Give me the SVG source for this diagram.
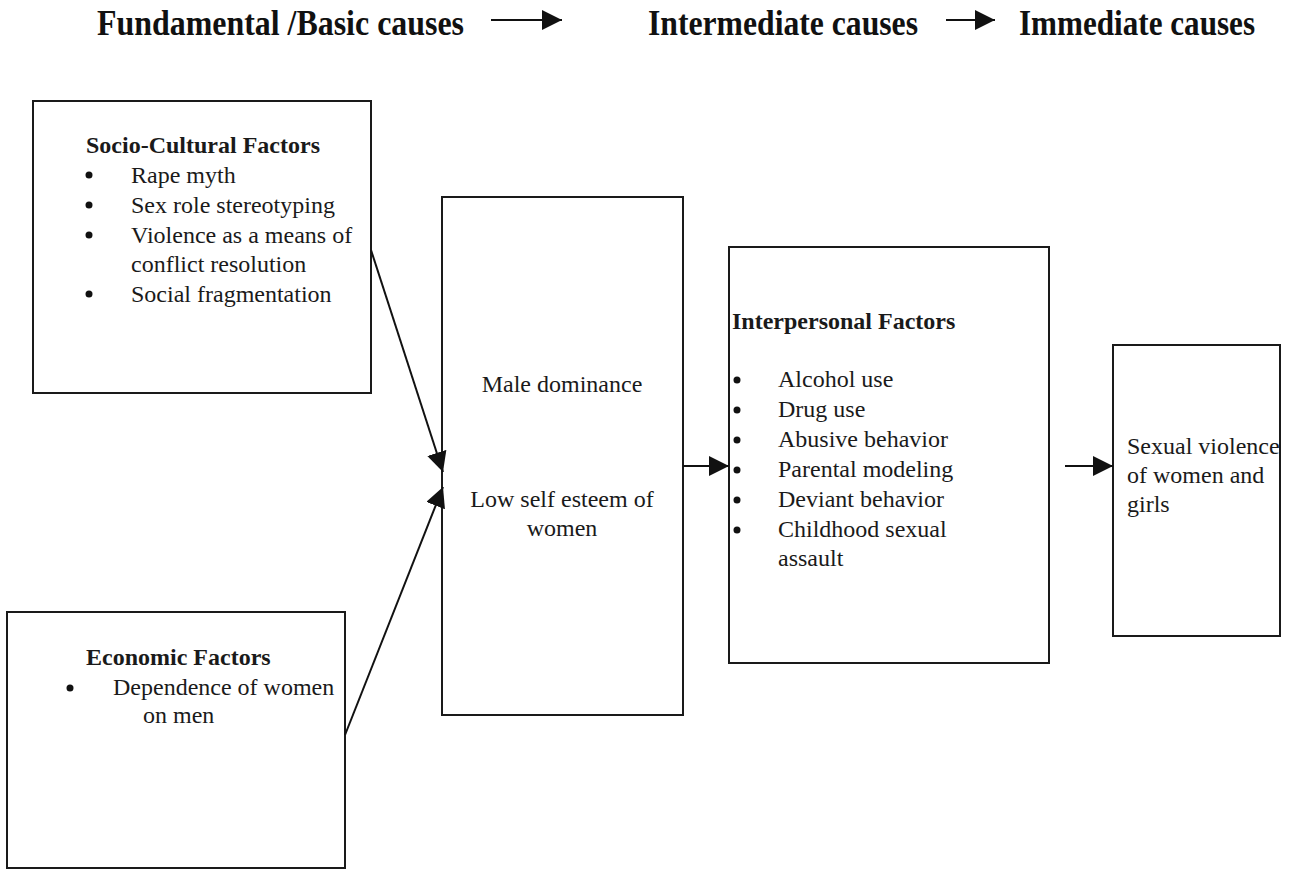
<svg xmlns="http://www.w3.org/2000/svg" width="1296" height="870" viewBox="0 0 1296 870">
<style>
.box{fill:#fff;stroke:#1a1a1a;stroke-width:2}
.t{font-family:"Liberation Serif","Times New Roman",serif;font-size:24px;fill:#1a1a1a}
.b{font-weight:bold}
.h{font-family:"Liberation Serif","Times New Roman",serif;font-size:35px;font-weight:bold;fill:#111}
.c{stroke:#111;stroke-width:2;fill:none}
.dot{fill:#111}
</style>
<defs>
<marker id="ah" markerUnits="userSpaceOnUse" markerWidth="20" markerHeight="20" refX="20" refY="10" orient="auto">
<path d="M0,0 L20,10 L0,20 z" fill="#111"/>
</marker>
</defs>
<rect width="1296" height="870" fill="#fff"/>
<g id="header">
<text class="h" x="97" y="35" textLength="367" lengthAdjust="spacingAndGlyphs">Fundamental /Basic causes</text>
<text class="h" x="648" y="35" textLength="270" lengthAdjust="spacingAndGlyphs">Intermediate causes</text>
<text class="h" x="1019" y="35" textLength="236" lengthAdjust="spacingAndGlyphs">Immediate causes</text>
</g>
<g id="socio">
<rect class="box" x="33" y="101" width="338" height="292"/>
<text class="t b" x="86" y="153">Socio-Cultural Factors</text>
<circle class="dot" cx="89" cy="175" r="3.5"/>
<circle class="dot" cx="89" cy="205" r="3.5"/>
<circle class="dot" cx="89" cy="235" r="3.5"/>
<circle class="dot" cx="89" cy="294" r="3.5"/>
<text class="t" x="131" y="183">Rape myth</text>
<text class="t" x="131" y="213">Sex role stereotyping</text>
<text class="t" x="131" y="243">Violence as a means of</text>
<text class="t" x="131" y="272">conflict resolution</text>
<text class="t" x="131" y="302">Social fragmentation</text>
</g>
<g id="economic">
<rect class="box" x="7" y="612" width="338" height="256"/>
<text class="t b" x="86" y="665">Economic Factors</text>
<circle class="dot" cx="70" cy="688" r="3.5"/>
<text class="t" x="113" y="695">Dependence of women</text>
<text class="t" x="143" y="723">on men</text>
</g>
<g id="male">
<rect class="box" x="442" y="197" width="241" height="518"/>
<text class="t" x="562" y="392" text-anchor="middle">Male dominance</text>
<text class="t" x="562" y="507" text-anchor="middle">Low self esteem of</text>
<text class="t" x="562" y="536" text-anchor="middle">women</text>
</g>
<g id="interpersonal">
<rect class="box" x="729" y="247" width="320" height="416"/>
<text class="t b" x="732" y="329">Interpersonal Factors</text>
<circle class="dot" cx="737" cy="380" r="3.5"/>
<circle class="dot" cx="737" cy="410" r="3.5"/>
<circle class="dot" cx="737" cy="440" r="3.5"/>
<circle class="dot" cx="737" cy="470" r="3.5"/>
<circle class="dot" cx="737" cy="500" r="3.5"/>
<circle class="dot" cx="737" cy="530" r="3.5"/>
<text class="t" x="778" y="387">Alcohol use</text>
<text class="t" x="778" y="417">Drug use</text>
<text class="t" x="778" y="447">Abusive behavior</text>
<text class="t" x="778" y="477">Parental modeling</text>
<text class="t" x="778" y="507">Deviant behavior</text>
<text class="t" x="778" y="537">Childhood sexual</text>
<text class="t" x="778" y="566">assault</text>
</g>
<g id="outcome">
<rect class="box" x="1113" y="345" width="167" height="291"/>
<text class="t" x="1127" y="454">Sexual violence</text>
<text class="t" x="1127" y="483">of  women and</text>
<text class="t" x="1127" y="512">girls</text>
</g>
<g id="connectors">
<line class="c" x1="491" y1="20" x2="562" y2="20" marker-end="url(#ah)"/>
<line class="c" x1="946" y1="20" x2="995" y2="20" marker-end="url(#ah)"/>
<line class="c" x1="371" y1="250" x2="443" y2="472" marker-end="url(#ah)"/>
<line class="c" x1="345" y1="735" x2="443" y2="487" marker-end="url(#ah)"/>
<line class="c" x1="683" y1="466" x2="729" y2="466" marker-end="url(#ah)"/>
<line class="c" x1="1065" y1="466" x2="1113" y2="466" marker-end="url(#ah)"/>
</g>
</svg>
